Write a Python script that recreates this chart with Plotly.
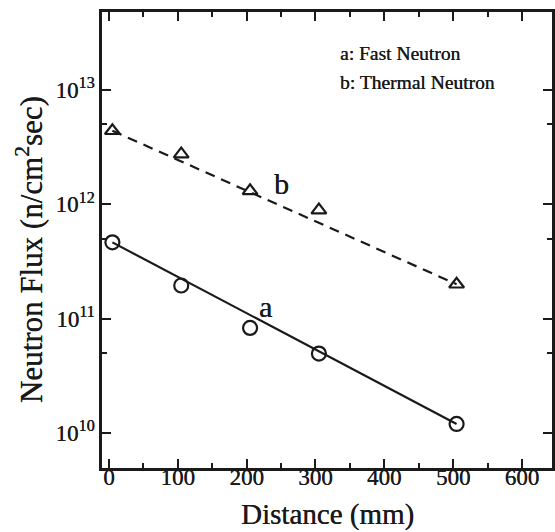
import plotly.graph_objects as go

# ---- data ----
distance = [5, 105, 205, 305, 505]                       # mm
fast_flux = [4.65e11, 1.95e11, 8.3e10, 4.95e10, 1.2e10]  # a: fast neutron
thermal_flux = [4.4e12, 2.75e12, 1.31e12, 8.9e11, 2.0e11]  # b: thermal neutron

fit_x = [5, 505]
fast_fit = [4.65e11, 1.2e10]
thermal_fit = [4.4e12, 2.0e11]

x_ticks = [0, 100, 200, 300, 400, 500, 600]
x_minor = [50, 150, 250, 350, 450, 550]
y_ticks = [1e10, 1e11, 1e12, 1e13]
y_ticklabels = ["10<sup>10</sup>", "10<sup>11</sup>", "10<sup>12</sup>", "10<sup>13</sup>"]
y_minor = [5e9, 5e10, 5e11, 5e12]

INK = "#1a1a1a"
FONT = "Liberation Serif"
SHADOW = "0.3px 0 0 #1a1a1a"


def f(size, color=INK):
    return dict(family=FONT, size=size, color=color, shadow=SHADOW)


fig = go.Figure()
fig.add_trace(go.Scatter(x=fit_x, y=thermal_fit, mode="lines",
                         line=dict(color=INK, width=2.2, dash="10px,7px"),
                         showlegend=False, hoverinfo="skip"))
fig.add_trace(go.Scatter(x=fit_x, y=fast_fit, mode="lines",
                         line=dict(color=INK, width=2.2),
                         showlegend=False, hoverinfo="skip"))
fig.add_trace(go.Scatter(x=distance, y=thermal_flux, mode="markers",
                         marker=dict(symbol="triangle-up-open", size=13,
                                     color=INK, line=dict(width=2.2, color=INK)),
                         showlegend=False))
fig.add_trace(go.Scatter(x=distance, y=fast_flux, mode="markers",
                         marker=dict(symbol="circle-open", size=14,
                                     color=INK, line=dict(width=2.2, color=INK)),
                         showlegend=False))

fig.update_layout(
    width=555, height=532,
    margin=dict(l=102, r=0, t=12, b=64),
    paper_bgcolor="white", plot_bgcolor="white",
    font=dict(family=FONT, color=INK, size=22),
    xaxis=dict(range=[-10.1, 643.6], showgrid=False, zeroline=False,
               showline=True, linecolor=INK, linewidth=2.5, mirror="ticks",
               ticks="inside", ticklen=9, tickwidth=2, tickcolor=INK,
               tickvals=x_ticks, ticktext=[str(v) for v in x_ticks],
               tickfont=f(23),
               ticklabelstandoff=-13,
               minor=dict(tickvals=x_minor, ticks="inside", ticklen=5,
                          tickwidth=2, tickcolor=INK, showgrid=False)),
    yaxis=dict(type="log", range=[9.694, 13.682], showgrid=False, zeroline=False,
               showline=True, linecolor=INK, linewidth=2.5, mirror="ticks",
               ticks="inside", ticklen=9, tickwidth=2, tickcolor=INK,
               tickvals=y_ticks, ticktext=y_ticklabels,
               tickfont=f(23),
               ticklabelstandoff=0,
               minor=dict(tickvals=y_minor, ticks="inside", ticklen=5,
                          tickwidth=2, tickcolor=INK, showgrid=False)),
    annotations=[
        dict(text="Distance (mm)", xref="paper", yref="paper", x=0.5, y=-0.103,
             yanchor="middle", xanchor="center", showarrow=False, font=f(29)),
        dict(text="Neutron Flux (n/cm<sup>2</sup>sec)", xref="paper", yref="paper",
             x=-0.162, y=0.478, textangle=-90, xanchor="center", yanchor="middle",
             showarrow=False, font=f(31)),
        dict(text="a: Fast Neutron", xref="paper", yref="paper", x=0.525, y=0.910,
             xanchor="left", yanchor="middle", showarrow=False, font=f(19.5)),
        dict(text="b: Thermal Neutron", xref="paper", yref="paper", x=0.525, y=0.846,
             xanchor="left", yanchor="middle", showarrow=False, font=f(19.5)),
        dict(text="a", x=227, y=11.11, xref="x", yref="y", showarrow=False,
             xanchor="center", yanchor="middle", font=f(30)),
        dict(text="b", x=251, y=12.18, xref="x", yref="y", showarrow=False,
             xanchor="center", yanchor="middle", font=f(30)),
    ],
)

fig.write_html("out.html")
